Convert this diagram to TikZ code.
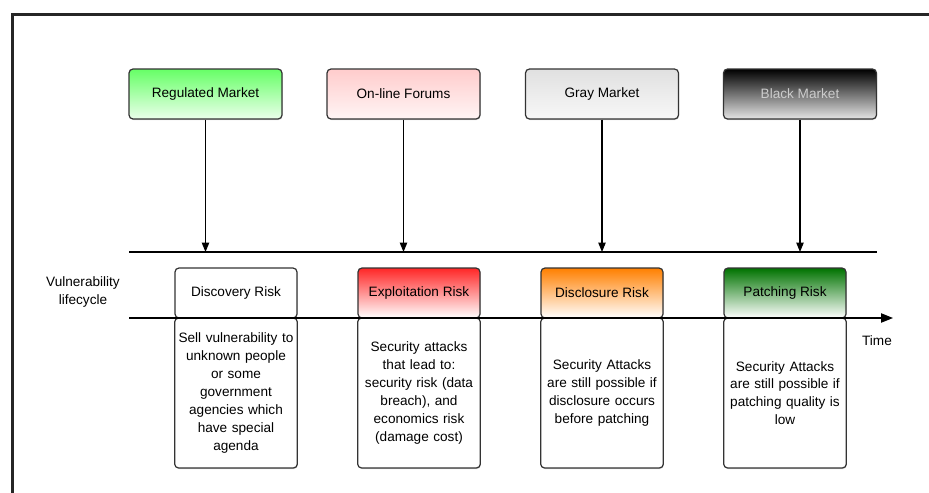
\documentclass[tikz,border=0pt]{standalone}
\usepackage{fontspec}
\setmainfont{Liberation Sans}
\usetikzlibrary{arrows.meta,positioning,shadows}

\begin{document}
\begin{tikzpicture}[
    x=0.75pt, y=-0.75pt,
    every node/.style={font=\fontsize{10.2}{13.4}\selectfont},
    box/.style={draw=black!80,line width=0.9pt,rounded corners=3pt,
                align=center,inner sep=2pt,
                drop shadow={shadow xshift=0.4pt,shadow yshift=-0.8pt,opacity=0.35}},
    market/.style={box,minimum width=114.75pt,minimum height=37.5pt},
    riskhead/.style={box,minimum width=91.5pt,minimum height=37.5pt},
    riskbody/.style={box,fill=white,minimum width=91.5pt,minimum height=112.5pt,text width=88pt},
    arr/.style={-{Triangle[length=7pt,width=5.5pt]},line width=0.8pt},
    axis/.style={line width=0.9pt},
  ]
  \useasboundingbox (0,0) rectangle (929,493);

  % outer frame (open on the right and at the bottom)
  \draw[line width=1.6pt,black!85] (929,14.5) -- (12.5,14.5) -- (12.5,493);

  % markets
  \node[market,top color=green!60,bottom color=green!8] (regm) at (205.5,94) {Regulated Market};
  \node[market,top color=red!20,bottom color=red!4] (forum) at (403.5,94) {On-line Forums};
  \node[market,top color=black!12,bottom color=black!3] (graym) at (602,94) {Gray Market};
  \node[market,top color=black,bottom color=black!10,text=black!20] (blackm) at (800,94) {Black Market};

  % line the markets feed into
  \coordinate (mkL) at (129,252);
  \coordinate (mkR) at (877,252);
  \draw[axis] (mkL) -- (mkR);
  \foreach \m in {regm,forum,graym,blackm}
    \draw[arr] (\m.south) -- (\m.south |- mkL);

  % lifecycle axis
  \coordinate (t0) at (129,318);
  \coordinate (t1) at (893,318);
  \node (life) at (83,292) [align=center] {Vulnerability\\lifecycle};
  \node (time) at (877,341) {Time};

  % risk stages: header above the axis, description below
  \node[riskhead,fill=white] (disc) at (236,293) {Discovery Risk};
  \node[riskbody] (discT) at (236,393)
    {Sell vulnerability to\\unknown people\\or some\\government\\agencies which\\have special\\agenda};

  \node[riskhead,top color=red!85,bottom color=white] (expl) at (419,293) {Exploitation Risk};
  \node[riskbody] (explT) at (419,393)
    {Security attacks\\that lead to:\\security risk (data\\breach), and\\economics risk\\(damage cost)};

  \node[riskhead,top color=orange,bottom color=white] (discl) at (602,293) {Disclosure Risk};
  \node[riskbody] (disclT) at (602,393)
    {Security Attacks\\are still possible if\\disclosure occurs\\before patching};

  \node[riskhead,top color=green!45!black,bottom color=white] (patch) at (785,293) {Patching Risk};
  \node[riskbody] (patchT) at (785,393)
    {Security Attacks\\are still possible if\\patching quality is\\low};

  \draw[axis,-{Triangle[length=9pt,width=7pt]}] (t0) -- (t1);

\end{tikzpicture}
\end{document}
